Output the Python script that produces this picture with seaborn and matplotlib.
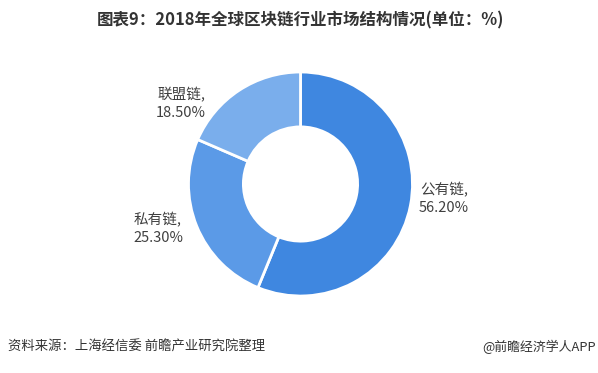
import matplotlib
matplotlib.use("Agg")
import matplotlib.pyplot as plt
import seaborn as sns

categories = ["公有链", "私有链", "联盟链"]
values = [56.20, 25.30, 18.50]
colors = ["#3f87e0", "#5b9ae7", "#7aaeec"]
title = "图表9：2018年全球区块链行业市场结构情况(单位：%)"
source = "资料来源：上海经信委 前瞻产业研究院整理"
credit = "@前瞻经济学人APP"

sns.set_style("white")
plt.rcParams["font.family"] = ["Noto Sans CJK SC", "DejaVu Sans"]

W, H = 598, 373
fig = plt.figure(figsize=(W / 100, H / 100), dpi=100)
fig.patch.set_facecolor("white")

cx, cy, r = 300.5, 184, 112
ax = fig.add_axes([(cx - r) / W, (H - cy - r) / H, 2 * r / W, 2 * r / H])
wedges, _ = ax.pie(values, colors=colors, startangle=90, counterclock=False,
                   radius=1.0,
                   wedgeprops=dict(width=0.49, edgecolor="white", linewidth=2))
ax.set_xlim(-1, 1)
ax.set_ylim(-1, 1)
ax.set_aspect("equal")
ax.axis("off")

# label positions in figure pixels (x, y from top)
label_pos = [(444, 199), (158, 229), (181, 104)]
for cat, val, (lx, ly) in zip(categories, values, label_pos):
    fig.text(lx / W, 1 - ly / H, f"{cat},\n{val:.2f}%", ha="center", va="center",
             fontsize=10.5, color="#404040", linespacing=1.35)

fig.text(300 / W, 1 - 20 / H, title, ha="center", va="center", fontsize=11.9,
         fontweight="bold", color="#333333")
fig.text(8 / W, 1 - 347 / H, source, ha="left", va="center", fontsize=9.6,
         color="#333333")
fig.text(596 / W, 1 - 347 / H, credit, ha="right", va="center", fontsize=9.3,
         color="#333333")

fig.savefig("out.png", dpi=100, facecolor="white")
